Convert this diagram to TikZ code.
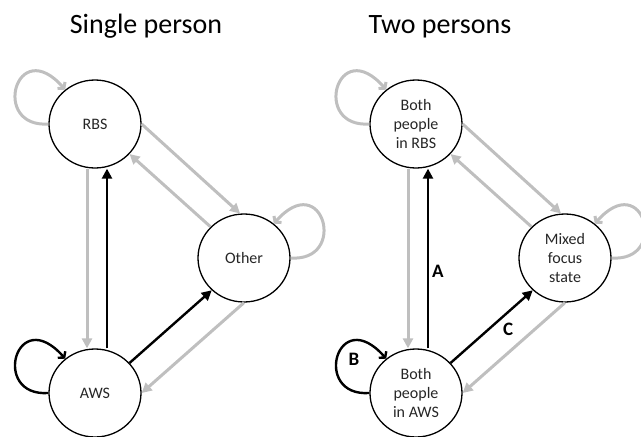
\documentclass[tikz,border=0pt]{standalone}
\usepackage{fontspec}
\setmainfont{Carlito}
\usetikzlibrary{arrows.meta,shapes.geometric}
\definecolor{lightgrey}{RGB}{191,191,191}
\begin{document}
\begin{tikzpicture}[x=1pt,y=-1pt,
  state/.style={draw, ellipse, line width=1.3pt, minimum width=92pt,
    minimum height=88pt, inner sep=0pt, align=center,
    font=\fontsize{16}{19}\selectfont, text=black!85},
  grayedge/.style={draw=lightgrey, line width=3pt,
    -{Triangle[length=10pt,width=10pt]}},
  blackedge/.style={draw=black, line width=2.4pt,
    -{Triangle[length=10pt,width=10pt]}},
  grayloop/.style={draw=lightgrey, line width=3pt,
    -{Straight Barb[length=4pt,width=10pt]}},
  blackloop/.style={draw=black, line width=2.4pt,
    -{Straight Barb[length=4pt,width=10pt]}},
  title/.style={font=\fontsize{28}{30}\selectfont, anchor=base},
  tag/.style={font=\fontsize{19}{21}\selectfont\bfseries, inner sep=2pt}
]
\useasboundingbox (0,0) rectangle (641,437);

% Titles
\node[title] (t1) at (146,33) {Single person};
\node[title] (t2) at (440,33) {Two persons};

% Single person states
\node[state] (rbs) at (95,124) {RBS};
\node[state] (aws) at (95,393) {AWS};
\node[state] (oth) at (244,258) {Other};

% Two persons states
\node[state] (rbs2) at (416,124) {Both\\people\\in RBS};
\node[state] (aws2) at (416,393) {Both\\people\\in AWS};
\node[state] (oth2) at (565,258) {Mixed\\focus\\state};

% Transitions, single person
\draw[grayloop] (rbs.west) .. controls +(-58,4) and +(-49,-56) .. (rbs.131);
\draw[grayloop] (oth.east) .. controls +(58,4) and +(49,-56) .. (oth.49);
\draw[blackloop] (aws.west) .. controls +(-58,4) and +(-49,-56) .. (aws.131);
\draw[grayedge] ([xshift=-8pt]rbs.south) -- ([xshift=-8pt]aws.north);
\draw[blackedge] ([xshift=12pt]aws.north) -- ([xshift=12pt]rbs.south);
\draw[grayedge] (rbs.east) -- (oth.95);
\draw[grayedge] (oth.137) -- (rbs.319);
\draw[blackedge] (aws.41) -- (oth.225);
\draw[grayedge] (oth.south) -- (aws.east);

% Transitions, two persons
\draw[grayloop] (rbs2.west) .. controls +(-58,4) and +(-49,-56) .. (rbs2.131);
\draw[grayloop] (oth2.east) .. controls +(58,4) and +(49,-56) .. (oth2.49);
\draw[blackloop] (aws2.west) .. controls +(-58,4) and +(-49,-56) .. (aws2.131);
\draw[grayedge] ([xshift=-8pt]rbs2.south) -- ([xshift=-8pt]aws2.north);
\draw[blackedge] ([xshift=12pt]aws2.north) -- ([xshift=12pt]rbs2.south)
  node[tag, pos=0.43, anchor=west, xshift=1pt] (la) {A};
\draw[grayedge] (rbs2.east) -- (oth2.95);
\draw[grayedge] (oth2.137) -- (rbs2.319);
\draw[blackedge] (aws2.41) -- (oth2.225)
  node[tag, pos=0.6, anchor=north west] (lc) {C};
\draw[grayedge] (oth2.south) -- (aws2.east);
\node[tag] (lb) at (354,359) {B};
\end{tikzpicture}
\end{document}
